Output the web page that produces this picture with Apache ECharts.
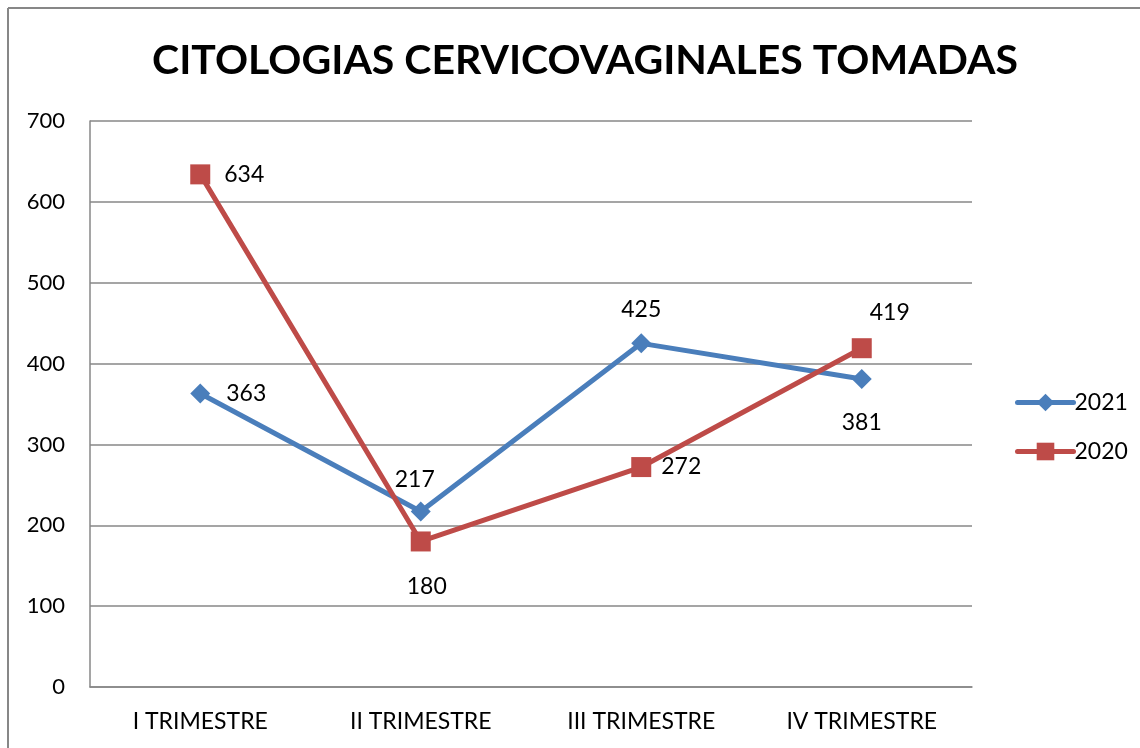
<!DOCTYPE html>
<html>
<head>
<meta charset="utf-8">
<script src="https://cdn.jsdelivr.net/npm/echarts@6/dist/echarts.min.js"></script>
<style>
html,body{margin:0;padding:0;background:#fff;}
#chart{width:1140px;height:748px;}
</style>
</head>
<body>
<div id="chart"></div>
<script>
var categories = ["I TRIMESTRE","II TRIMESTRE","III TRIMESTRE","IV TRIMESTRE"];
var data2021 = [363,217,425,381];
var data2020 = [634,180,272,419];
// posicion de las etiquetas de cada punto
var pos2021 = ["right","top","top","bottom"];
var pos2020 = ["right","bottom","right","top"];

var FONT = "Lato";

function build_points(values,positions,distances,offsets){
    let out = [];
    for(let i in values){
        out.push({
            value:values[i],
            label:{position:positions[i],distance:distances[i],offset:offsets[i]}
        });
    }
    return out;
}

var chart = echarts.init(document.getElementById("chart"),null,{renderer:'canvas'});

var option = {
    backgroundColor:'#fff',
    animation:false,
    title:{
        text:'CITOLOGIAS CERVICOVAGINALES TOMADAS',
        left:580,
        textAlign:'center',
        top:35,
        textStyle:{fontFamily:FONT,fontWeight:'bold',fontSize:41,color:'#000'}
    },
    // borde del grafico (solo arriba e izquierda se ven)
    graphic:[
        {type:'line',shape:{x1:8,y1:8,x2:1140,y2:8},style:{stroke:'#878787',lineWidth:2},silent:true},
        {type:'line',shape:{x1:8,y1:8,x2:8,y2:748},style:{stroke:'#878787',lineWidth:2},silent:true}
    ],
    grid:{left:90,right:168,top:121,bottom:61,containLabel:false},
    legend:{
        orient:'vertical',
        left:1010,
        top:386,
        itemWidth:56,
        itemHeight:22,
        itemGap:26,
        lineStyle:{width:5,cap:'round'},
        textStyle:{fontFamily:FONT,fontSize:23,color:'#000',padding:[0,0,0,-4]},
        data:['2021','2020']
    },
    xAxis:{
        type:'category',
        data:categories,
        boundaryGap:true,
        axisLine:{lineStyle:{color:'#878787',width:1.5}},
        axisTick:{show:false},
        axisLabel:{fontFamily:FONT,fontSize:23,color:'#000',margin:23}
    },
    yAxis:{
        type:'value',
        min:0,max:700,interval:100,
        axisLine:{show:true,lineStyle:{color:'#878787',width:1.5}},
        axisTick:{show:false},
        splitLine:{lineStyle:{color:'#878787',width:1.5}},
        axisLabel:{fontFamily:FONT,fontSize:22,color:'#000',margin:25}
    },
    series:[
        {
            name:'2021',
            type:'line',
            symbol:'diamond',
            symbolSize:20,
            lineStyle:{width:5,color:'#4A7EBB'},
            itemStyle:{color:'#4A7EBB'},
            label:{show:true,fontFamily:FONT,fontSize:23,color:'#000'},
            data:build_points(data2021,pos2021,[16,10,12,22],[[0,0],[-6,0],[0,0],[0,0]])
        },
        {
            name:'2020',
            type:'line',
            symbol:'rect',
            symbolSize:20,
            lineStyle:{width:5,color:'#BE4B48'},
            itemStyle:{color:'#BE4B48'},
            label:{show:true,fontFamily:FONT,fontSize:23,color:'#000'},
            data:build_points(data2020,pos2020,[14,24,10,14],[[0,0],[6,0],[0,0],[28,0]])
        }
    ]
};
chart.setOption(option);
</script>
</body>
</html>
